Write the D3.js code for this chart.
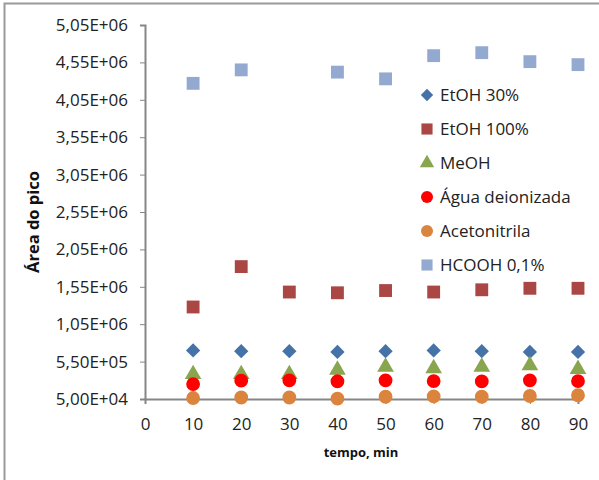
<!DOCTYPE html>
<html>
<head>
<meta charset="utf-8">
<script src="https://cdn.jsdelivr.net/npm/d3@7"></script>
<style>
  body { margin: 0; background: #fff; }
  svg { font-family: "Open Sans", sans-serif; }
</style>
</head>
<body>
<svg id="chart"></svg>
<script>
// time points (min)
const tempo = [10, 20, 30, 40, 50, 60, 70, 80, 90];

// peak areas
const etoh30   = [0.70e6, 0.69e6, 0.69e6, 0.68e6, 0.69e6, 0.70e6, 0.69e6, 0.68e6, 0.68e6];
const etoh100  = [1.28e6, 1.82e6, 1.48e6, 1.47e6, 1.50e6, 1.48e6, 1.51e6, 1.53e6, 1.53e6];
const meoh     = [0.38e6, 0.38e6, 0.38e6, 0.44e6, 0.48e6, 0.46e6, 0.48e6, 0.50e6, 0.45e6];
const agua     = [0.25e6, 0.295e6, 0.30e6, 0.287e6, 0.30e6, 0.29e6, 0.285e6, 0.30e6, 0.29e6];
const acetonit = [0.063e6, 0.07e6, 0.07e6, 0.055e6, 0.08e6, 0.085e6, 0.08e6, 0.09e6, 0.10e6];
const hcooh    = [4.27e6, 4.45e6, null, 4.42e6, 4.33e6, 4.64e6, 4.68e6, 4.56e6, 4.52e6];

const seriesNames = ["EtOH 30%", "EtOH 100%", "MeOH", "Água deionizada", "Acetonitrila", "HCOOH 0,1%"];
const seriesValues = [etoh30, etoh100, meoh, agua, acetonit, hcooh];
const seriesColors = ["#4572A7", "#AA4643", "#89A54E", "#FF0000", "#DB843D", "#93A9CF"];
const seriesShapes = [d3.symbolDiamond2, d3.symbolSquare, d3.symbolTriangle, d3.symbolCircle, d3.symbolCircle, d3.symbolSquare];

const xTicks = [0, 10, 20, 30, 40, 50, 60, 70, 80, 90];
const yTicks = [5.0e4, 5.5e5, 1.05e6, 1.55e6, 2.05e6, 2.55e6, 3.05e6, 3.55e6, 4.05e6, 4.55e6, 5.05e6];

const width = 599, height = 480;
const margin = {top: 25, right: 21, bottom: 81, left: 145};

const svg = d3.select("#chart").attr("width", width).attr("height", height);

// outer chart border
svg.append("rect")
  .attr("x", 4.5).attr("y", 3.5)
  .attr("width", width).attr("height", height)
  .attr("fill", "none").attr("stroke", "#9a9a9a").attr("stroke-width", 2);

const x = d3.scaleLinear().domain([0, 90]).range([margin.left, width - margin.right]);
const y = d3.scaleLinear().domain([5.0e4, 5.05e6]).range([height - margin.bottom, margin.top]);

const fmt = v => {
  const e = Math.floor(Math.log10(v));
  const m = (v / Math.pow(10, e)).toFixed(2).replace(".", ",");
  return m + "E+" + String(e).padStart(2, "0");
};

// y axis
const yAxis = svg.append("g")
  .attr("transform", `translate(${margin.left},0)`)
  .call(d3.axisLeft(y).tickValues(yTicks).tickFormat(fmt).tickSize(5).tickPadding(12));
yAxis.select(".domain").attr("stroke", "#868686").attr("stroke-width", 2);
yAxis.selectAll(".tick line").attr("stroke", "#868686");
yAxis.selectAll("text").attr("font-size", 17).attr("fill", "#222").attr("font-family", "'Open Sans', sans-serif");

// x axis
const xAxis = svg.append("g")
  .attr("transform", `translate(0,${y(5.0e4)})`)
  .call(d3.axisBottom(x).tickValues(xTicks).tickSize(5).tickPadding(14));
xAxis.select(".domain").attr("stroke", "#868686").attr("stroke-width", 2);
xAxis.selectAll(".tick line").attr("stroke", "#868686");
xAxis.selectAll("text").attr("font-size", 17).attr("fill", "#222").attr("font-family", "'Open Sans', sans-serif");

// axis titles
svg.append("text")
  .attr("transform", `translate(39,${(margin.top + height - margin.bottom) / 2 + 10}) rotate(-90)`)
  .attr("text-anchor", "middle")
  .attr("font-size", 16.5).attr("font-weight", "bold").attr("fill", "#111")
  .text("Área do pico");

svg.append("text")
  .attr("x", 361).attr("y", 457)
  .attr("text-anchor", "middle")
  .attr("font-size", 13).attr("font-weight", "bold").attr("fill", "#111")
  .text("tempo, min");

// markers
const symbolSize = [130, 165, 120, 150, 150, 165];
seriesValues.forEach((vals, i) => {
  const sym = d3.symbol().type(seriesShapes[i]).size(symbolSize[i]);
  svg.append("g").selectAll("path")
    .data(tempo.map((t, j) => ({t, v: vals[j]})).filter(d => d.v != null))
    .join("path")
    .attr("transform", d => `translate(${x(d.t)},${y(d.v)})`)
    .attr("d", sym)
    .attr("fill", seriesColors[i]);
});

// legend
const legend = svg.append("g").attr("transform", "translate(427,95)");
seriesNames.forEach((name, i) => {
  const row = legend.append("g").attr("transform", `translate(0,${i * 34})`);
  row.append("path")
    .attr("d", d3.symbol().type(seriesShapes[i]).size(symbolSize[i] * 0.75))
    .attr("fill", seriesColors[i]);
  row.append("text")
    .attr("x", 13).attr("y", 6)
    .attr("font-size", 17).attr("fill", "#222")
    .text(name);
});
</script>
</body>
</html>
